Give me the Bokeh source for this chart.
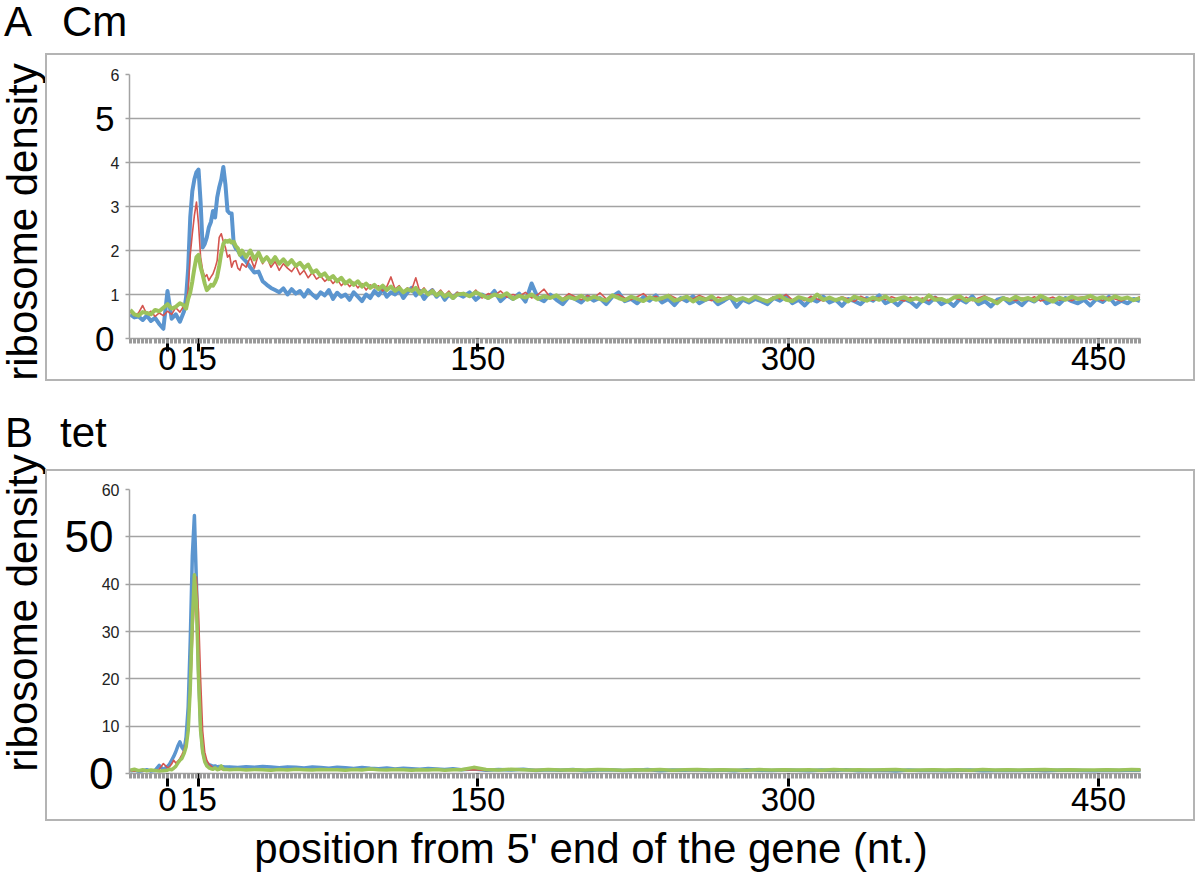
from bokeh.plotting import figure
from bokeh.models import Range1d, FixedTicker, LinearAxis, Div
from bokeh.layouts import column, row
from bokeh.embed import file_html
from bokeh.resources import INLINE

# ---------------- data ----------------
# nucleotide positions (panel A: Cm)
pos_cm = (list(range(-18, 9, 2)) + list(range(9, 37)) +
          list(range(38, 141, 2)) + list(range(143, 471, 3)))
# nucleotide positions (panel B: tet)
pos_tet = (list(range(-18, 1, 2)) + list(range(1, 29)) +
           list(range(30, 139, 4)) + list(range(142, 473, 6)))

cm_blue = [
    0.55, 0.48, 0.50, 0.42, 0.52, 0.40, 0.47, 0.33, 0.22, 1.08, 0.45, 0.55, 0.38, 0.62,
    0.94, 1.60, 2.76, 3.35, 3.62, 3.78, 3.84, 3.10, 2.07, 2.15, 2.30, 2.53, 2.65, 2.90,
    2.75, 3.20, 3.44, 3.62, 3.90, 3.50, 2.90, 2.85, 2.84, 2.15, 2.05, 2.00, 1.92, 1.85,
    1.75, 1.62, 1.50, 1.52, 1.30, 1.22, 1.15, 1.10, 1.05, 1.14,
    1.00, 1.12, 1.02, 1.08, 0.95, 1.10, 1.00, 0.92, 1.05, 0.98,
    1.10, 0.90, 1.04, 0.95, 1.00, 0.88, 1.05, 0.95, 0.85, 1.00,
    0.92, 1.08, 0.98, 1.12, 0.95, 1.05, 1.00, 1.10, 0.92, 1.05,
    1.15, 0.98, 1.08, 0.90, 1.02, 1.10, 0.95, 1.04, 0.88, 1.00,
    0.92, 1.02,
    0.95, 1.05, 0.88, 1.00, 0.92, 1.08, 0.85, 0.98, 0.90, 1.02,
    0.84, 1.25, 0.92, 0.85, 1.00, 0.88, 0.78, 0.95, 0.90, 0.82,
    0.96, 0.86, 0.92, 0.78, 0.95, 1.05, 0.85, 0.90, 0.80, 0.94,
    0.86, 0.98, 0.82, 0.90, 0.76, 0.92, 0.85, 0.96, 0.80, 0.88,
    0.93, 0.78, 0.86, 0.95, 0.72, 0.88, 0.82, 0.90, 0.85, 0.78,
    0.92, 0.86, 0.97, 0.80, 0.88, 0.75, 0.90, 0.84, 0.95, 0.82,
    0.88, 0.74, 0.90, 0.85, 0.78, 0.92, 0.86, 0.98, 0.80, 0.87,
    0.76, 0.90, 0.84, 0.72, 0.88, 0.80, 0.93, 0.78, 0.86, 0.74,
    0.90, 0.82, 0.96, 0.78, 0.85, 0.73, 0.88, 0.92, 0.80, 0.86,
    0.76, 0.90, 0.84, 0.95, 0.80, 0.87, 0.78, 0.92, 0.85, 0.80,
    0.88, 0.75, 0.90, 0.83, 0.95, 0.78, 0.86, 0.80, 0.90, 0.85,
]
cm_red = [
    0.60, 0.52, 0.58, 0.75, 0.55, 0.62, 0.50, 0.58, 0.52, 0.62, 0.55, 0.70, 0.60, 0.75,
    0.80, 1.10, 1.90, 2.38, 2.80, 3.10, 2.60, 1.85, 1.55, 1.40, 1.45, 1.32, 1.40, 1.47,
    1.60, 1.77, 2.30, 2.38, 2.20, 2.07, 1.85, 1.90, 1.62, 1.75, 1.77, 1.60, 1.55, 1.70,
    1.62, 1.85, 1.60, 1.92, 1.70, 1.85, 1.62, 1.75, 1.55, 1.70,
    1.60, 1.52, 1.65, 1.45, 1.55, 1.38, 1.50, 1.35, 1.42, 1.30,
    1.38, 1.25, 1.35, 1.20, 1.30, 1.18, 1.28, 1.15, 1.25, 1.10,
    1.22, 1.15, 1.20, 1.08, 1.18, 1.40, 1.12, 1.20, 1.05, 1.15,
    1.10, 1.38, 1.05, 1.15, 1.02, 1.12, 1.00, 1.10, 0.98, 1.08,
    0.95, 1.05,
    1.00, 0.95, 1.10, 0.92, 1.02, 0.98, 1.08, 0.94, 1.00, 0.96,
    1.05, 0.92, 1.00, 1.12, 0.94, 0.98, 0.90, 1.02, 0.95, 0.88,
    0.98, 0.92, 1.04, 0.90, 0.96, 1.00, 0.92, 0.88, 0.95, 1.02,
    0.90, 0.96, 0.88, 1.00, 0.93, 0.86, 0.95, 0.90, 0.98, 0.92,
    0.86, 0.94, 0.90, 0.98, 0.88, 0.92, 0.85, 0.95, 0.90, 0.87,
    0.95, 0.90, 1.00, 0.88, 0.93, 0.86, 0.96, 0.90, 0.85, 0.92,
    0.88, 0.95, 0.90, 0.84, 0.96, 0.90, 0.87, 0.93, 0.88, 0.95,
    0.90, 0.85, 0.94, 0.88, 0.92, 0.86, 0.95, 0.89, 0.84, 0.92,
    0.88, 0.94, 0.86, 0.92, 0.97, 0.88, 0.85, 0.93, 0.90, 0.86,
    0.92, 0.88, 0.95, 0.85, 0.90, 0.94, 0.87, 0.91, 0.86, 0.93,
    0.95, 0.88, 0.92, 0.86, 0.94, 0.90, 0.85, 0.92, 0.88, 0.95,
]
cm_green = [
    0.65, 0.55, 0.52, 0.60, 0.58, 0.55, 0.65, 0.62, 0.70, 0.78, 0.68, 0.72, 0.80, 0.75,
    0.68, 0.90, 1.05, 1.30, 1.60, 1.85, 1.90, 1.62, 1.45, 1.25, 1.10, 1.15, 1.22, 1.20,
    1.28, 1.40, 1.65, 1.95, 2.15, 2.22, 2.20, 2.23, 2.18, 2.20, 2.10, 2.05, 1.90, 2.00,
    1.85, 2.00, 1.80, 1.95, 1.75, 1.85, 1.72, 1.85, 1.70, 1.80,
    1.68, 1.78, 1.65, 1.72, 1.60, 1.68, 1.50, 1.55, 1.42, 1.48,
    1.35, 1.42, 1.30, 1.38, 1.25, 1.32, 1.22, 1.30, 1.18, 1.25,
    1.15, 1.22, 1.12, 1.20, 1.10, 1.18, 1.08, 1.15, 1.05, 1.12,
    1.08, 1.15, 1.02, 1.10, 1.00, 1.08, 0.98, 1.05, 0.95, 1.02,
    0.92, 1.00,
    1.02, 0.96, 1.05, 0.98, 0.92, 1.00, 0.95, 1.03, 0.90, 0.97,
    0.93, 1.00, 0.90, 0.96, 0.92, 0.98, 0.88, 0.94, 0.90, 0.97,
    0.88, 0.95, 0.90, 0.86, 0.98, 0.92, 0.87, 0.95, 0.90, 0.85,
    0.94, 0.88, 0.92, 0.97, 0.86, 0.90, 0.95, 0.84, 0.92, 0.88,
    0.96, 0.85, 0.90, 0.94, 0.87, 0.92, 0.86, 0.95, 0.89, 0.84,
    0.92, 0.97, 0.88, 0.85, 0.94, 0.90, 0.86, 1.00, 0.88, 0.93,
    0.87, 0.92, 0.84, 0.95, 0.90, 0.86, 0.93, 0.88, 0.96, 0.85,
    0.90, 0.94, 0.87, 0.92, 0.85, 0.98, 0.88, 0.90, 0.84, 0.93,
    0.96, 0.86, 0.90, 0.85, 0.93, 0.88, 0.80, 0.92, 0.87, 0.95,
    0.88, 0.92, 0.86, 0.97, 0.90, 0.84, 0.93, 0.88, 0.95, 0.90,
    0.92, 0.97, 0.90, 0.94, 0.88, 0.96, 0.90, 0.93, 0.87, 0.92,
]

tet_blue = [
    0.5, 0.7, 0.45, 0.6, 0.8, 0.5, 0.65, 1.7, 0.8, 1.5,
    2.0, 2.8, 3.6, 4.6, 5.8, 6.7, 5.5, 4.9, 7.7, 14.0,
    28.0, 46.0, 54.5, 40.0, 22.0, 10.0, 5.0, 3.0, 2.2, 1.9,
    1.7, 1.5, 1.6, 1.4, 1.5, 1.3, 1.45, 1.35,
    1.4, 1.25, 1.45, 1.3, 1.5, 1.35, 1.2, 1.4, 1.3, 1.15,
    1.35, 1.25, 1.1, 1.3, 1.2, 1.05, 1.25, 1.1, 1.0, 1.15,
    0.95, 1.1, 1.0, 0.9, 1.05, 0.95, 0.85, 1.0,
    0.8, 0.95, 0.7, 0.85, 0.75, 0.9, 0.65, 0.8, 0.7, 0.85,
    0.6, 0.75, 0.8, 0.65, 0.7, 0.85, 0.6, 0.75, 0.7, 0.8,
    0.65, 0.72, 0.6, 0.78, 0.68, 0.62, 0.75, 0.7, 0.58, 0.72,
    0.65, 0.8, 0.6, 0.7, 0.66, 0.55, 0.72, 0.64, 0.7, 0.6,
    0.68, 0.75, 0.58, 0.66, 0.7, 0.62, 0.74, 0.6, 0.68, 0.72,
    0.64, 0.58, 0.7, 0.66, 0.72, 0.68,
]
tet_red = [
    0.6, 0.5, 0.7, 0.55, 0.65, 0.5, 0.6, 0.9, 2.1, 1.2,
    1.4, 2.0, 2.8, 2.2, 2.6, 3.2, 4.0, 5.0, 6.5, 9.5,
    16.0, 27.0, 37.0, 41.5, 34.0, 20.0, 9.0, 4.5, 2.8, 2.0,
    1.6, 1.2, 1.0, 0.9, 1.0, 0.85, 0.9, 0.8,
    0.85, 0.75, 0.9, 0.7, 0.8, 0.85, 0.7, 0.9, 0.75, 0.8,
    0.7, 0.85, 0.75, 0.8, 0.7, 0.78, 0.85, 0.7, 0.8, 0.72,
    0.78, 0.7, 0.82, 0.75, 0.7, 0.8, 0.72, 0.78,
    0.7, 0.78, 0.65, 0.8, 0.72, 0.68, 0.82, 0.7, 0.75, 0.66,
    0.8, 0.7, 0.74, 0.68, 0.78, 0.65, 0.72, 0.8, 0.7, 0.66,
    0.75, 0.7, 0.82, 0.68, 0.72, 0.76, 0.64, 0.7, 0.78, 0.7,
    0.66, 0.74, 0.7, 0.8, 0.65, 0.72, 0.7, 0.76, 0.68, 0.74,
    0.7, 0.65, 0.78, 0.72, 0.68, 0.75, 0.7, 0.66, 0.74, 0.8,
    0.7, 0.72, 0.68, 0.76, 0.7, 0.74,
]
tet_green = [
    0.7, 0.9, 0.6, 0.8, 0.55, 0.75, 0.65, 0.5, 0.6, 0.7,
    0.9, 0.8, 1.1, 1.5, 2.2, 2.8, 3.2, 4.2, 5.6, 9.0,
    18.0, 32.0, 42.0, 36.0, 20.0, 9.0, 4.5, 2.5, 1.6, 1.2,
    1.0, 0.9, 1.2, 0.8, 0.9, 1.6, 0.85, 0.9,
    0.8, 0.9, 0.75, 0.85, 0.8, 0.7, 0.85, 0.75, 0.9, 0.8,
    0.72, 0.85, 0.78, 0.8, 0.7, 0.82, 0.75, 0.95, 0.8, 0.72,
    0.85, 0.78, 0.7, 0.8, 0.75, 0.82, 0.7, 0.78,
    0.8, 1.3, 0.85, 0.75, 0.9, 0.78, 0.7, 0.82, 0.76, 0.8,
    0.72, 0.85, 0.78, 0.7, 0.8, 0.75, 0.82, 0.7, 0.78, 0.85,
    0.72, 0.8, 0.76, 0.7, 0.82, 0.75, 0.8, 0.72, 0.78, 0.7,
    0.85, 0.76, 0.8, 0.72, 0.78, 0.82, 0.7, 0.76, 0.8, 0.74,
    0.78, 0.7, 0.82, 0.75, 0.8, 0.72, 0.78, 0.85, 0.74, 0.8,
    0.76, 0.72, 0.8, 0.75, 0.82, 0.78,
]

x_ticks = [0, 15, 150, 300, 450]
x_tick_labels = {0: "0", 15: "15", 150: "150", 300: "300", 450: "450"}

# ---------------- styling / geometry ----------------
FONT = "Liberation Sans"
BLUE, RED, GREEN = "#5b95cf", "#d4554f", "#9cc35b"
GRID = "#a3a3a3"
BOX = "#b4b4b4"
LEFT_W = 45            # width of left text strip
BOX_W = 1150           # boxed panel width (page x 45..1195)
LINE = 2               # box line thickness
PLOT_W = BOX_W - 2 * LINE
FRAME_L, FRAME_R = 129, 1140       # page px of the plot area
X0_PX = 167                         # page px of position 0
PXU = 2.069                         # px per nt
X_START = (FRAME_L - X0_PX) / PXU
X_END = (FRAME_R - X0_PX) / PXU
ASC = 0.8465  # baseline offset (em) for line-height 1 with Liberation Sans


def span(text, size, left, baseline=None, center=None, rotate=False, hcenter=False):
    base = ("position:absolute;white-space:nowrap;font-family:'%s';font-size:%dpx;"
            "line-height:1;color:black;margin:0;padding:0;" % (FONT, size))
    if rotate:
        cx, cy = center
        style = base + ("left:%dpx;top:%dpx;transform:translate(-50%%,-50%%) rotate(-90deg);"
                        % (cx, cy))
    else:
        top = baseline - ASC * size
        style = base + "left:%dpx;top:%.1fpx;" % (left, top)
        if hcenter:
            style += "transform:translateX(-50%);"
    return '<span style="%s">%s</span>' % (style, text)


def text_strip(w, h, parts):
    return Div(text="".join(parts), width=w, height=h,
               styles={"position": "relative", "overflow": "visible", "margin": "0",
                       "padding": "0"})


def rule(w, h):
    return Div(text="", width=w, height=h,
               styles={"background-color": BOX, "margin": "0", "padding": "0"})


def make_panel(page_top, page_bot, frame_top, frame_bot, ymax, small_ticks,
               big_ticks, big_font, big_standoff, small_standoff, xlab_standoff,
               positions, series, widths):
    height = page_bot - page_top
    left0 = LEFT_W + LINE
    p = figure(width=PLOT_W, height=height,
               min_border_left=FRAME_L - left0,
               min_border_right=PLOT_W - (FRAME_R - left0),
               min_border_top=frame_top - page_top,
               min_border_bottom=page_bot - frame_bot,
               x_range=Range1d(X_START, X_END), y_range=Range1d(0, ymax),
               output_backend="svg", toolbar_location=None)
    p.outline_line_color = None
    p.background_fill_color = "white"
    p.border_fill_color = "white"

    ya = p.yaxis[0]
    ya.ticker = FixedTicker(ticks=small_ticks)
    ya.major_label_overrides = {t: "" for t in big_ticks}
    ya.major_label_text_font = FONT
    ya.major_label_text_font_size = "16px"
    ya.major_label_text_color = "#222222"
    ya.major_label_standoff = small_standoff
    ya.major_tick_in = 0
    ya.major_tick_out = 4
    ya.major_tick_line_color = GRID
    ya.major_tick_line_width = 1.5
    ya.minor_tick_line_color = None
    ya.axis_line_color = GRID
    ya.axis_line_width = 1.5

    p.ygrid.grid_line_color = GRID
    p.ygrid.grid_line_width = 1.5
    p.xgrid.visible = False

    xa = p.xaxis[0]
    xa.ticker = FixedTicker(ticks=x_ticks, minor_ticks=list(range(-18, 471, 2)))
    xa.major_label_overrides = x_tick_labels
    xa.major_label_text_font = FONT
    xa.major_label_text_font_size = "33px"
    xa.major_label_text_color = "black"
    xa.major_label_standoff = xlab_standoff
    xa.major_tick_in = 0
    xa.major_tick_out = 13
    xa.major_tick_line_color = "black"
    xa.major_tick_line_width = 3
    xa.minor_tick_in = 0
    xa.minor_tick_out = 5
    xa.minor_tick_line_color = "#9a9a9a"
    xa.minor_tick_line_width = 3
    xa.axis_line_color = GRID
    xa.axis_line_width = 1.5

    big = LinearAxis(ticker=FixedTicker(ticks=big_ticks))
    big.axis_line_color = None
    big.major_tick_line_color = None
    big.minor_tick_line_color = None
    big.major_tick_in = 0
    big.major_tick_out = 0
    big.major_label_text_font = FONT
    big.major_label_text_font_size = big_font
    big.major_label_text_color = "black"
    big.major_label_standoff = big_standoff
    p.add_layout(big, "left")

    for (vals, col), w in zip(series, widths):
        p.line(positions, vals, line_color=col, line_width=w, line_join="round")

    boxed = column(
        rule(BOX_W, LINE),
        row(rule(LINE, height), p, rule(LINE, height), spacing=0),
        rule(BOX_W, LINE),
        spacing=0)
    return boxed


# page rows: topA 0-53, box A 53-381, midB 381-469, box B 469-821, bottom 821-875
boxA = make_panel(page_top=53 + LINE, page_bot=381 - LINE, frame_top=74, frame_bot=338,
                  ymax=6, small_ticks=[0, 1, 2, 3, 4, 5, 6], big_ticks=[0, 5],
                  big_font="35px", big_standoff=-7, small_standoff=6, xlab_standoff=-5,
                  positions=pos_cm,
                  series=[(cm_blue, BLUE), (cm_red, RED), (cm_green, GREEN)],
                  widths=[4.0, 1.6, 4.0])
boxB = make_panel(page_top=469 + LINE, page_bot=821 - LINE, frame_top=489, frame_bot=773,
                  ymax=60, small_ticks=[0, 10, 20, 30, 40, 50, 60], big_ticks=[0, 50],
                  big_font="44px", big_standoff=-15, small_standoff=6, xlab_standoff=1,
                  positions=pos_tet,
                  series=[(tet_blue, BLUE), (tet_red, RED), (tet_green, GREEN)],
                  widths=[3.5, 1.6, 3.5])

left = text_strip(LEFT_W, 875, [
    span("A", 42, 4, baseline=37),
    span("B", 42, 5, baseline=448),
    span("ribosome density", 42, 0, center=(23, 222), rotate=True),
    span("ribosome density", 42, 0, center=(23, 613), rotate=True),
])
topA = text_strip(BOX_W, 53, [span("Cm", 42, 62 - LEFT_W, baseline=37)])
midB = text_strip(BOX_W, 469 - 381, [span("tet", 42, 60 - LEFT_W, baseline=448 - 381)])
bottom = text_strip(BOX_W, 875 - 821, [
    span("position from 5' end of the gene (nt.)", 42, 591 - LEFT_W,
         baseline=864 - 821, hcenter=True)])

layout = row(left, column(topA, boxA, midB, boxB, bottom, spacing=0), spacing=0)
open("out.html", "w").write(file_html(layout, INLINE))
